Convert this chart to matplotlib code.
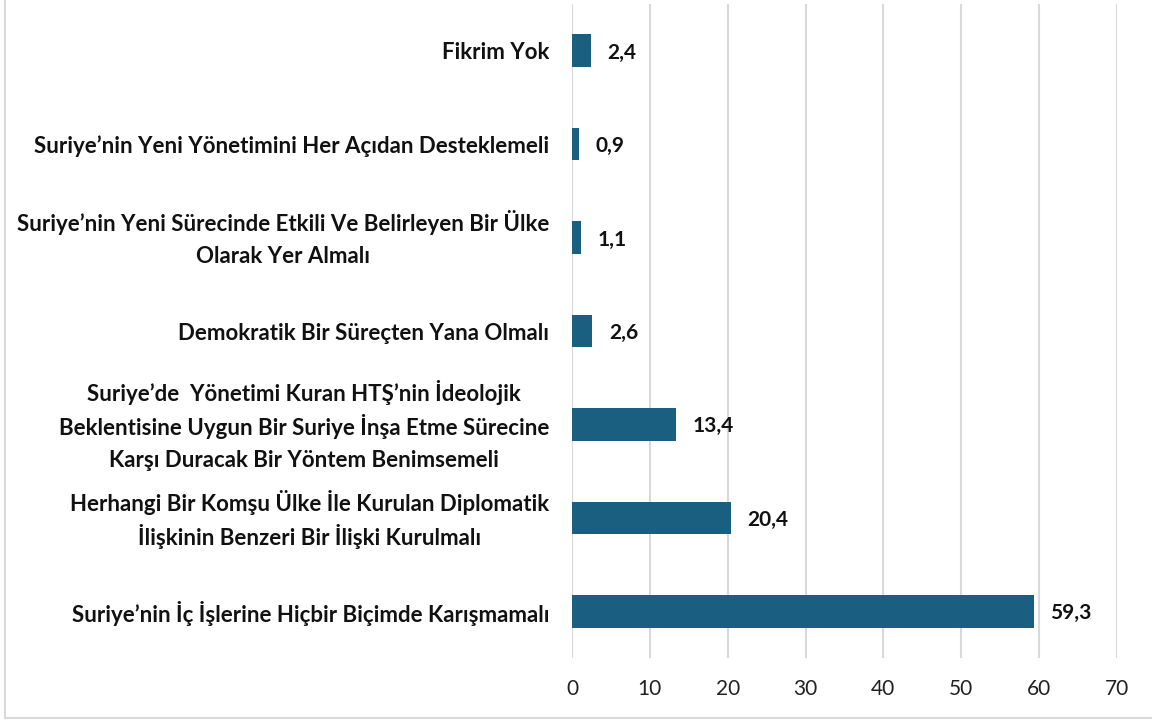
import matplotlib
matplotlib.use("Agg")
import matplotlib.pyplot as plt
from matplotlib.lines import Line2D

# categories listed bottom -> top, as drawn
labels = [
    "Suriye\u2019nin \u0130\u00e7 \u0130\u015flerine Hi\u00e7bir Bi\u00e7imde Kar\u0131\u015fmamal\u0131",
    "Herhangi Bir Kom\u015fu \u00dclke \u0130le Kurulan Diplomatik\n\u0130li\u015fkinin Benzeri Bir \u0130li\u015fki Kurulmal\u0131",
    "Suriye\u2019de  Y\u00f6netimi Kuran HT\u015e\u2019nin \u0130deolojik\nBeklentisine Uygun Bir Suriye \u0130n\u015fa Etme S\u00fcrecine\nKar\u015f\u0131 Duracak Bir Y\u00f6ntem Benimsemeli",
    "Demokratik Bir S\u00fcre\u00e7ten Yana Olmal\u0131",
    "Suriye\u2019nin Yeni S\u00fcrecinde Etkili Ve Belirleyen Bir \u00dclke\nOlarak Yer Almal\u0131",
    "Suriye\u2019nin Yeni Y\u00f6netimini Her A\u00e7\u0131dan Desteklemeli",
    "Fikrim Yok",
]
values = [59.3, 20.4, 13.4, 2.6, 1.1, 0.9, 2.4]
xticks = [0, 10, 20, 30, 40, 50, 60, 70]

bar_color = "#1b5f80"
grid_color = "#d9d9d9"

plt.rcParams['font.family'] = ['Lato', 'DejaVu Sans']

fig = plt.figure(figsize=(11.52, 7.22), dpi=100)
ax = fig.add_axes([0.4965, 0.0886, 0.4731, 0.9059])

ypos = list(range(len(values)))
ax.barh(ypos, values, height=0.35, color=bar_color, zorder=3)

for y, v in zip(ypos, values):
    ax.annotate(f"{v:.1f}".replace(".", ","), xy=(v, y), xytext=(12, 0),
                textcoords="offset points", va="center_baseline", ha="left",
                fontsize=15, fontweight="bold", color="#111111")

ax.set_xlim(0, 70)
ax.set_ylim(-0.5, len(values) - 0.5)
ax.set_xticks(xticks)
ax.set_xticklabels([str(t) for t in xticks], fontsize=15, color="#222222")
ax.set_yticks(ypos)
ax.set_yticklabels([])
ax.tick_params(axis="both", length=0)
ax.tick_params(axis="x", pad=15)

ax.grid(axis="x", color=grid_color, linewidth=1.5, zorder=0)
for s in ax.spines.values():
    s.set_visible(False)

# category labels: one text per line so spacing stays even, lines centred
line_gap = 24.5   # points between lines
label_pad = 16.5  # points between label block and axis
blocks = []
for y, lab in zip(ypos, labels):
    lines = lab.split("\n")
    n = len(lines)
    texts = []
    for i, line in enumerate(lines):
        dy = ((n - 1) / 2 - i) * line_gap
        t = ax.annotate(line, xy=(0, y), xycoords=("axes fraction", "data"),
                        xytext=(0, dy), textcoords="offset points",
                        ha="center", va="center_baseline", fontsize=16,
                        fontweight="bold", color="#111111")
        texts.append(t)
    blocks.append(texts)

fig.canvas.draw()
r = fig.canvas.get_renderer()
for texts in blocks:
    wmax = max(t.get_window_extent(r).width for t in texts) * 72 / fig.dpi
    for t in texts:
        x0, y0 = t.get_position()
        t.set_position((-(label_pad + wmax / 2), y0))

# chart border (left and bottom edges visible in the crop)
fig.add_artist(Line2D([0.004, 0.004], [0.005, 1.0], transform=fig.transFigure,
                      color=grid_color, linewidth=1.5))
fig.add_artist(Line2D([0.004, 1.0], [0.005, 0.005], transform=fig.transFigure,
                      color=grid_color, linewidth=1.5))

fig.savefig("out.png", dpi=100, facecolor="white")
